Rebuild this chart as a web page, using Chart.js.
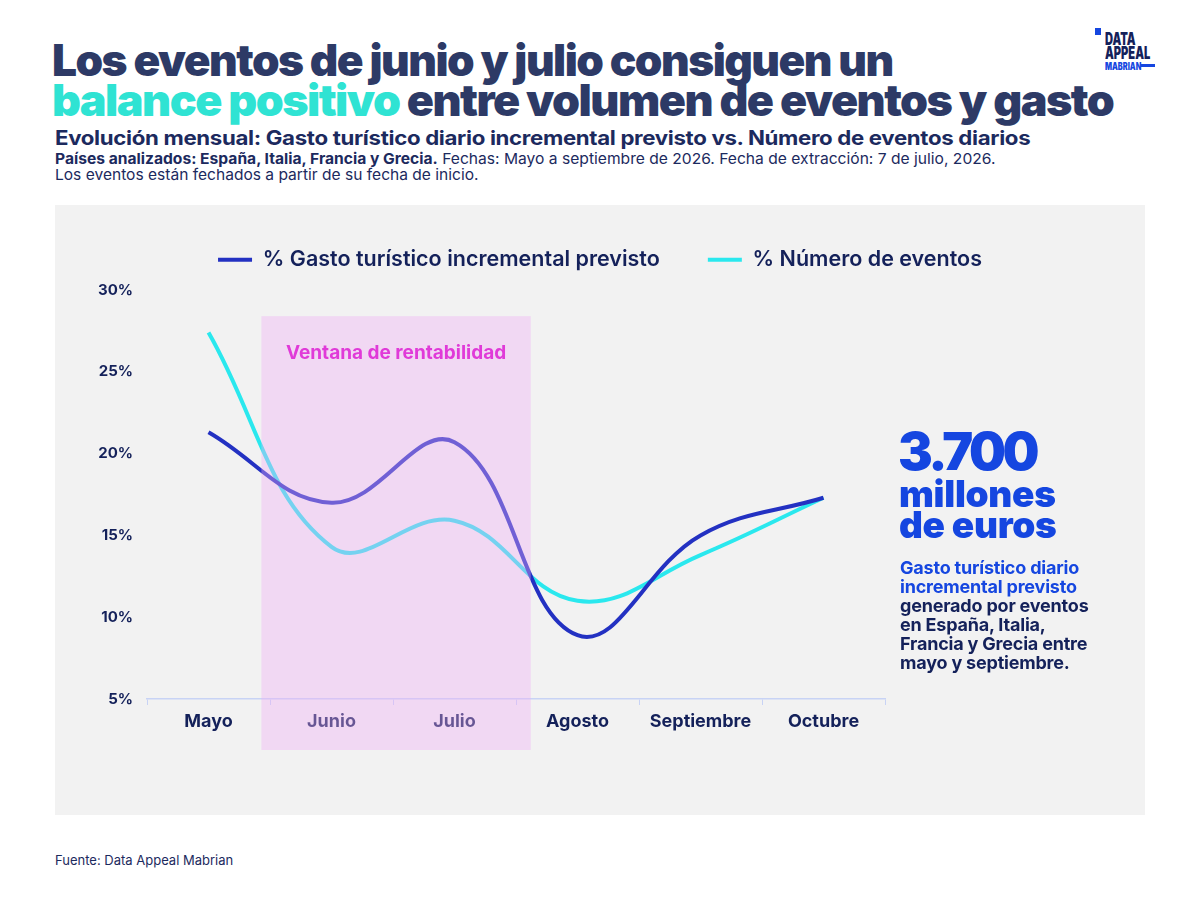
<!DOCTYPE html>
<html>
<head>
<meta charset="utf-8">
<script src="https://cdn.jsdelivr.net/npm/chart.js@4.4.1/dist/chart.umd.min.js"></script>
<style>
  body { margin: 0; width: 1200px; height: 900px; background: #fff; position: relative; overflow: hidden;
         font-family: Inter, "Noto Sans", sans-serif; color: #14215a; }
  .abs { position: absolute; white-space: nowrap; }
  .title { font-weight: 900; font-size: 44px; line-height: 40px; color: #2d3a66; letter-spacing: -1.5px; transform-origin: left top; }
  .title .hl { color: #2fe3d3; }
  #panel { left: 55px; top: 205px; width: 1090px; height: 610px; background: #f2f2f2; }
  #wrap { left: 55px; top: 201px; width: 1090px; height: 614px; }
  .big { color: #1546e0; font-weight: 900; }
  .note { font-size: 18px; font-weight: 700; line-height: 19px; color: #14215a; letter-spacing: -0.2px; }
  .note .b { color: #1546e0; }
</style>
</head>
<body>
<div class="abs title" id="t1" style="left:52px;top:40px">Los eventos de junio y julio consiguen un</div>
<div class="abs title" id="t2" style="left:52px;top:80px"><span class="hl">balance positivo</span> entre volumen de eventos y gasto</div>

<div class="abs" id="s1" style="left:55px;top:126px;font-size:20px;font-weight:700;color:#1c2a5e;letter-spacing:-0.3px;transform-origin:left top">Evolución mensual: Gasto turístico diario incremental previsto vs. Número de eventos diarios</div>
<div class="abs" id="s2" style="left:55px;top:149px;font-size:15px;color:#1c2a5e;transform-origin:left top"><b>Países analizados: España, Italia, Francia y Grecia.</b> Fechas: Mayo a septiembre de 2026. Fecha de extracción: 7 de julio, 2026.</div>
<div class="abs" id="s3" style="left:55px;top:165px;font-size:15px;color:#1c2a5e;transform-origin:left top">Los eventos están fechados a partir de su fecha de inicio.</div>

<!-- logo -->
<div class="abs" style="left:1095px;top:28px;width:6px;height:7px;background:#1546e0"></div>
<div class="abs" id="logo" style="left:1105px;top:33px;font-size:17px;font-weight:900;line-height:13.5px;color:#14215a;transform-origin:left top">DATA<br>APPEAL</div>
<div class="abs" id="logo2" style="left:1105px;top:60px;font-size:10px;font-weight:900;color:#1546e0;transform-origin:left top">MABRIAN</div>
<div class="abs" style="left:1141px;top:64px;width:14px;height:3px;background:#1546e0"></div>

<div class="abs" id="panel"></div>
<div class="abs" id="wrap"><canvas id="chart"></canvas></div>

<div class="abs big" style="left:898px;top:424px;font-size:52px;line-height:56px;letter-spacing:-3.5px">3.700</div>
<div class="abs big" style="left:899px;top:478px;font-size:37px;line-height:31px;letter-spacing:-0.3px">millones<br>de euros</div>
<div class="abs note" style="left:900px;top:558px">
  <span class="b">Gasto turístico diario<br>incremental previsto</span><br>generado por eventos<br>en España, Italia,<br>Francia y Grecia entre<br>mayo y septiembre.
</div>

<div class="abs" style="left:55px;top:852px;font-size:13px;color:#1c2a5e">Fuente: Data Appeal Mabrian</div>

<script>
// data
const months = ["Mayo", "Junio", "Julio", "Agosto", "Septiembre", "Octubre"];
const gastoPct = [21.3, 17.0, 20.7, 8.9, 15.0, 17.3];
const eventosPct = [27.4, 14.3, 15.9, 11.0, 13.8, 17.3];
const seriesNames = ["% Gasto turístico incremental previsto", "% Número de eventos"];
const yTicks = [5, 10, 15, 20, 25, 30];

// shaded window (in category index / value units)
const bandLabel = "Ventana de rentabilidad";
const bandFrom = 0.43;
const bandTo = 2.62;
const bandTop = 28.4;

const navy = "#14215a";

// stretch text blocks to the widths measured on the reference
function fitWidth(id, w) {
  const el = document.getElementById(id);
  el.style.transform = "scaleX(" + (w / el.offsetWidth) + ")";
}
fitWidth("t1", 841);
fitWidth("t2", 1061);
fitWidth("s1", 975);
fitWidth("s2", 940);
fitWidth("s3", 423);
fitWidth("logo", 45);
fitWidth("logo2", 36);

const bandPlugin = {
  id: "band",
  afterDraw(chart) {
    const { ctx, chartArea } = chart;
    const x = chart.scales.x, y = chart.scales.y;
    const l = x.getPixelForValue(bandFrom);
    const r = x.getPixelForValue(bandTo);
    const t = y.getPixelForValue(bandTop);
    const b = chartArea.bottom + 51;
    ctx.save();
    ctx.fillStyle = "rgba(239,173,245,0.38)";
    ctx.fillRect(l, t, r - l, b - t);
    ctx.fillStyle = "#e03ad8";
    ctx.font = "700 19px Inter";
    ctx.textAlign = "center";
    ctx.textBaseline = "middle";
    ctx.fillText(bandLabel, (l + r) / 2, t + 37);
    ctx.restore();
  }
};

// legend needs a fixed height so the plot starts where the reference does
const legendFit = {
  id: "legendFit",
  beforeInit(chart) {
    const fit = chart.legend.fit;
    chart.legend.fit = function () {
      fit.call(this);
      this.height = 89;
    };
  }
};

new Chart(document.getElementById("chart"), {
  type: "line",
  data: {
    labels: months,
    datasets: [
      { label: seriesNames[0], data: gastoPct, borderColor: "#2331c2", backgroundColor: "#2331c2",
        borderWidth: 4, tension: 0.4, pointRadius: 0 },
      { label: seriesNames[1], data: eventosPct, borderColor: "#2ae8ee", backgroundColor: "#2ae8ee",
        borderWidth: 4, tension: 0.4, pointRadius: 0 }
    ]
  },
  plugins: [bandPlugin, legendFit],
  options: {
    responsive: true,
    maintainAspectRatio: false,
    animation: false,
    layout: { padding: 0 },
    plugins: {
      tooltip: { enabled: false },
      legend: {
        position: "top",
        labels: {
          boxWidth: 34,
          boxHeight: 4,
          padding: 48,
          color: navy,
          font: { family: "Inter", size: 21.5, weight: "600" },
          generateLabels: (chart) =>
            Chart.defaults.plugins.legend.labels.generateLabels(chart).map((l) => ({
              ...l, lineWidth: 0, fillStyle: l.strokeStyle
            }))
        }
      }
    },
    scales: {
      x: {
        offset: true,
        grid: { display: true, drawOnChartArea: false, offset: true, tickLength: 6, color: "#c8d3f5" },
        border: { color: "#c8d3f5", width: 1.5 },
        ticks: { color: navy, padding: 6, font: { family: "Inter", size: 18, weight: "700" } },
        afterFit: (s) => { s.height = 116; }
      },
      y: {
        min: yTicks[0],
        max: yTicks[yTicks.length - 1],
        afterBuildTicks: (s) => { s.ticks = yTicks.map((v) => ({ value: v })); },
        grid: { display: false, drawTicks: false },
        border: { display: false },
        ticks: { color: navy, padding: 14, font: { family: "Inter", size: 15, weight: "700" },
                 callback: (v) => v + "%" },
        afterFit: (s) => { s.width = 92; }
      },
      yRight: {
        position: "right",
        grid: { display: false },
        border: { display: false },
        ticks: { display: false },
        afterFit: (s) => { s.width = 260; }
      }
    }
  }
});
</script>
</body>
</html>
